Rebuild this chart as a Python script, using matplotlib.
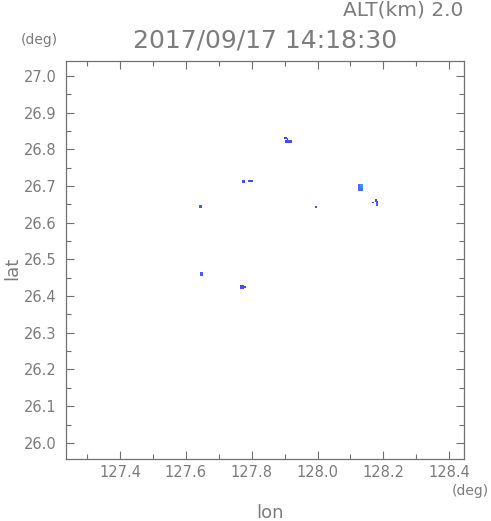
import matplotlib
matplotlib.use('Agg')
import matplotlib.pyplot as plt
from matplotlib.patches import Rectangle
from matplotlib.ticker import MultipleLocator

# echo cells: lon, lat, width (deg), height (deg), colour
cell_lon = [127.903, 127.908, 127.912, 127.774, 127.775, 127.796, 127.645, 127.995,
            128.130, 128.133, 128.178, 128.182, 128.168, 127.647, 127.770, 127.779]
cell_lat = [26.831, 26.829, 26.821, 26.732, 26.712, 26.713, 26.644, 26.643,
            26.697, 26.700, 26.661, 26.653, 26.656, 26.460, 26.425, 26.426]
cell_w = [0.009, 0.004, 0.020, 0.002, 0.010, 0.014, 0.008, 0.007,
          0.016, 0.009, 0.008, 0.006, 0.005, 0.010, 0.013, 0.006]
cell_h = [0.003, 0.006, 0.008, 0.006, 0.007, 0.005, 0.007, 0.005,
          0.020, 0.012, 0.010, 0.012, 0.002, 0.011, 0.011, 0.005]
cell_col = ['#4a4af5', '#4a4af5', '#4a4af5', '#4a4af5', '#4a4af5', '#4a4af5', '#4a5af5', '#4a4af5',
            '#4a6af5', '#3a90ff', '#4a4af5', '#4a5af5', '#4a4af5', '#4a5af5', '#4a4af5', '#4a4af5']

xmin, xmax = 127.236, 128.445
ymin, ymax = 25.956, 27.041
xticks = [127.4, 127.6, 127.8, 128.0, 128.2, 128.4]
yticks = [26.0, 26.1, 26.2, 26.3, 26.4, 26.5, 26.6, 26.7, 26.8, 26.9, 27.0]

grey = '#707070'
tgrey = '#7c7c7c'
plt.rcParams['font.family'] = 'DejaVu Sans'

fig = plt.figure(figsize=(4.91, 5.21), dpi=100)
ax = fig.add_axes([66 / 491, 62 / 521, 398 / 491, 398 / 521])

for lo, la, w, h, c in zip(cell_lon, cell_lat, cell_w, cell_h, cell_col):
    ax.add_patch(Rectangle((lo - w / 2, la - h / 2), w, h, facecolor=c, edgecolor='none'))

ax.set_xlim(xmin, xmax)
ax.set_ylim(ymin, ymax)
ax.set_xticks(xticks)
ax.set_xticklabels([f'{v:.1f}' for v in xticks])
ax.set_yticks(yticks)
ax.set_yticklabels([f'{v:.1f}' for v in yticks])
ax.xaxis.set_minor_locator(MultipleLocator(0.1))
ax.yaxis.set_minor_locator(MultipleLocator(0.05))
ax.tick_params(which='both', direction='in', top=True, right=True, color=grey,
               labelcolor=tgrey, labelsize=10.5, width=0.8)
ax.tick_params(which='major', length=6)
ax.tick_params(axis='x', which='major', pad=4)
ax.tick_params(axis='y', which='major', pad=7)
ax.tick_params(which='minor', length=3.5)
for s in ax.spines.values():
    s.set_color(grey)
    s.set_linewidth(0.9)

fig.text(270 / 491, 1 - 513 / 521, 'lon', ha='center', va='center', color=tgrey, fontsize=13)
fig.text(12 / 491, 1 - 268 / 521, 'lat', ha='center', va='center', color=tgrey,
         fontsize=13, rotation=90)

fig.text(463 / 491, 1 - 10 / 521, 'ALT(km) 2.0', ha='right', va='center',
         color=tgrey, fontsize=14.5)
fig.text(265 / 491, 1 - 40 / 521, '2017/09/17 14:18:30', ha='center', va='center',
         color=tgrey, fontsize=18)
fig.text(39 / 491, 1 - 40 / 521, '(deg)', ha='center', va='center', color=tgrey, fontsize=10)
fig.text(470 / 491, 1 - 491 / 521, '(deg)', ha='center', va='center', color=tgrey, fontsize=10)

fig.savefig('out.png', dpi=100, facecolor='white')
